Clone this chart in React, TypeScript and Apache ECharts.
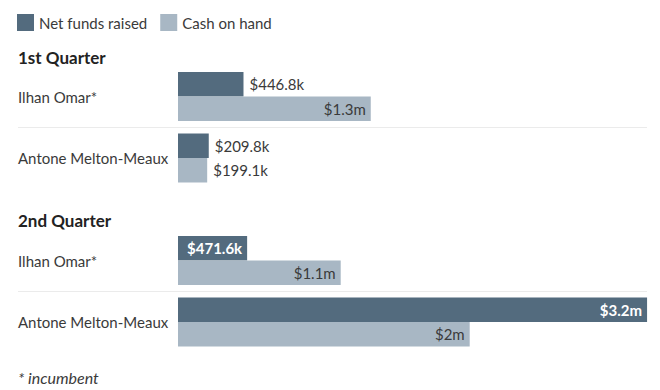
import React, { useEffect, useRef } from "react";
import * as echarts from "echarts";

const categories = ["Ilhan Omar*", "Antone Melton-Meaux"];
const quarterTitles = ["1st Quarter", "2nd Quarter"];
const seriesNames = ["Net funds raised", "Cash on hand"];
const q1Raised = [446800, 209800];
const q1Cash = [1315000, 199100];
const q2Raised = [471600, 3200000];
const q2Cash = [1110000, 1990000];
const q1RaisedLabels = ["$446.8k", "$209.8k"];
const q1CashLabels = ["$1.3m", "$199.1k"];
const q2RaisedLabels = ["$471.6k", "$3.2m"];
const q2CashLabels = ["$1.1m", "$2m"];
const footnote = "* incumbent";

const DARK = "#536b7e";
const LIGHT = "#a8b7c4";
const TEXT = "#3a3a3a";
const FONT = "Lato, 'Noto Sans', sans-serif";

const insideThreshold = [460000, 1000000];

function makeData(values: number[], labels: string[], sIdx: number) {
  return values.map((v, i) => {
    const inside = v >= insideThreshold[sIdx];
    return {
      value: v,
      label: {
        show: true,
        formatter: labels[i],
        position: inside ? "insideRight" : "right",
        distance: inside ? 5 : 6,
        color: inside && sIdx === 0 ? "#ffffff" : TEXT,
        fontWeight: inside && sIdx === 0 ? "bold" : "normal",
        fontSize: 15,
        fontFamily: FONT,
      },
    };
  });
}

export default function App() {
  const ref = useRef<HTMLDivElement>(null);
  useEffect(() => {
    if (!ref.current) return;
    const chart = echarts.init(ref.current, null, { renderer: "svg" });
    const grids = [
      { left: 178, width: 472, top: 65.75, height: 123 },
      { left: 178, width: 472, top: 229.75, height: 123 },
    ];
    const xAxes = grids.map((_, i) => ({
      type: "value",
      gridIndex: i,
      min: 0,
      max: 3220000,
      show: false,
      splitLine: { show: false },
    }));
    const yAxes = grids.map((_, i) => ({
      type: "category",
      gridIndex: i,
      data: categories,
      inverse: true,
      axisLine: { show: false },
      axisTick: { show: false },
      splitLine: { show: false },
      axisLabel: {
        align: "left",
        margin: 160,
        fontSize: 15,
        color: TEXT,
        fontFamily: FONT,
      },
    }));
    const mk = (name: string, idx: number, data: any, color: string) => ({
      type: "bar",
      name,
      xAxisIndex: idx,
      yAxisIndex: idx,
      data,
      barWidth: 24.5,
      barGap: "0%",
      itemStyle: { color },
    });
    const option: any = {
      animation: false,
      textStyle: { fontFamily: FONT },
      legend: {
        left: 17,
        top: 14,
        padding: 0,
        itemWidth: 17,
        itemHeight: 17,
        itemGap: 13,
        icon: "rect",
        data: seriesNames,
        textStyle: { fontSize: 15, color: TEXT, fontFamily: FONT },
      },
      title: quarterTitles.map((t, i) => ({
        text: t,
        left: 18,
        top: i === 0 ? 49 : 212,
        padding: 0,
        textStyle: { fontSize: 17, fontWeight: "bold", color: "#222", fontFamily: FONT },
      })),
      grid: grids,
      xAxis: xAxes,
      yAxis: yAxes,
      series: [
        mk(seriesNames[0], 0, makeData(q1Raised, q1RaisedLabels, 0), DARK),
        mk(seriesNames[1], 0, makeData(q1Cash, q1CashLabels, 1), LIGHT),
        mk(seriesNames[0], 1, makeData(q2Raised, q2RaisedLabels, 0), DARK),
        mk(seriesNames[1], 1, makeData(q2Cash, q2CashLabels, 1), LIGHT),
      ],
      graphic: [
        { type: "line", shape: { x1: 18, y1: 127.5, x2: 647, y2: 127.5 }, style: { stroke: "#ebebeb", lineWidth: 1 } },
        { type: "line", shape: { x1: 18, y1: 291.5, x2: 647, y2: 291.5 }, style: { stroke: "#ebebeb", lineWidth: 1 } },
        {
          type: "text",
          left: 18,
          top: 369,
          style: { text: footnote, fontSize: 16, fontStyle: "italic", fill: TEXT, fontFamily: FONT },
        },
      ],
    };
    chart.setOption(option);
    return () => chart.dispose();
  }, []);
  return <div ref={ref} style={{ width: 660, height: 390, position: "absolute", left: 0, top: 0 }} />;
}
